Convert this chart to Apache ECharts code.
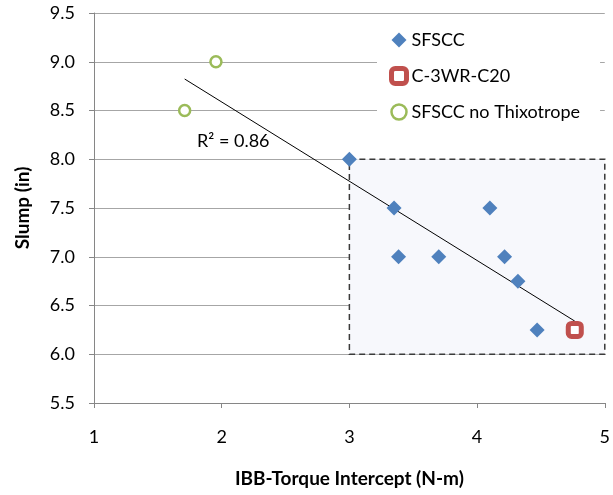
<!DOCTYPE html>
<html><head><meta charset="utf-8">
<script src="https://cdn.jsdelivr.net/npm/echarts@6/dist/echarts.min.js"></script>
<style>html,body{margin:0;padding:0;background:#fff}#c{width:613px;height:495px}</style>
</head><body><div id="c"></div>
<script>
const sfsccX = [3.00, 3.35, 4.10, 3.385, 3.70, 4.215, 4.32, 4.47];
const sfsccY = [8.00, 7.50, 7.50, 7.00, 7.00, 7.00, 6.75, 6.25];
const c3wrX = [4.765];
const c3wrY = [6.25];
const noThixX = [1.71, 1.955];
const noThixY = [8.50, 9.00];
const trendX = [1.71, 4.765];
const trendY = [8.823, 6.34];
const boxX = [3, 5];
const boxY = [6.0, 8.0];
const xTicks = [1, 2, 3, 4, 5];
const yTicks = [5.5, 6.0, 6.5, 7.0, 7.5, 8.0, 8.5, 9.0, 9.5];
const r2Text = 'R² = 0.86';

const zip = (a, b) => a.map((v, i) => [v, b[i]]);
const FONT = 'Lato, "Open Sans", sans-serif';
const chart = echarts.init(document.getElementById('c'), null, {renderer: 'canvas'});
chart.setOption({
  animation: false,
  textStyle: {fontFamily: FONT},
  grid: {left: 94, right: 8, top: 13, bottom: 92},
  xAxis: {
    type: 'value', min: xTicks[0], max: xTicks[xTicks.length - 1], interval: 1,
    name: 'IBB-Torque Intercept (N-m)', nameLocation: 'middle', nameGap: 66,
    nameTextStyle: {fontSize: 19, fontWeight: 'bold', color: '#000', fontFamily: FONT},
    axisLine: {lineStyle: {color: '#868686', width: 1}},
    axisTick: {show: true, inside: false, length: 5, lineStyle: {color: '#868686'}},
    axisLabel: {fontSize: 18, color: '#000', margin: 25, fontFamily: FONT},
    splitLine: {show: false}
  },
  yAxis: {
    type: 'value', min: yTicks[0], max: yTicks[yTicks.length - 1], interval: 0.5,
    name: 'Slump (in)', nameLocation: 'middle', nameGap: 62,
    nameTextStyle: {fontSize: 19, fontWeight: 'bold', color: '#000', fontFamily: FONT},
    axisLine: {show: true, lineStyle: {color: '#868686', width: 1}},
    axisTick: {show: true, inside: false, length: 5, lineStyle: {color: '#868686'}},
    axisLabel: {fontSize: 18, color: '#000', margin: 19, fontFamily: FONT, formatter: v => v.toFixed(1)},
    splitLine: {show: true, lineStyle: {color: '#a6a6a6', width: 1}}
  },
  legend: {
    orient: 'vertical', left: 377, top: 25, itemGap: 17,
    backgroundColor: '#fff', padding: [6, 20, 6, 12],
    itemWidth: 15, itemHeight: 15,
    textStyle: {fontSize: 18, color: '#000', fontFamily: FONT},
    data: [
      {name: 'SFSCC', icon: 'diamond'},
      {name: 'C-3WR-C20', icon: 'roundRect', itemStyle: {color: '#fff', borderColor: '#C0504D', borderWidth: 5}},
      {name: 'SFSCC no Thixotrope', icon: 'circle', itemStyle: {color: '#fff', borderColor: '#9BBB59', borderWidth: 2.5}}
    ]
  },
  series: [
    {
      name: 'box', type: 'line', data: [], silent: true,
      markArea: {
        silent: true,
        itemStyle: {color: '#f7f8fc', opacity: 1, borderColor: '#3a3a3a', borderWidth: 1.5, borderType: [6, 4]},
        data: [[{coord: [boxX[0], boxY[1]]}, {coord: [boxX[1], boxY[0]]}]]
      }
    },
    {
      name: 'trend', type: 'line', data: zip(trendX, trendY), symbol: 'none',
      lineStyle: {color: '#000', width: 1}, silent: true, z: 3
    },
    {
      name: 'SFSCC', type: 'scatter', data: zip(sfsccX, sfsccY),
      symbol: 'diamond', symbolSize: 15, itemStyle: {color: '#4F81BD', opacity: 1}, z: 4
    },
    {
      name: 'C-3WR-C20', type: 'scatter', data: zip(c3wrX, c3wrY),
      symbol: 'roundRect', symbolSize: 13,
      itemStyle: {color: '#fff', borderColor: '#C0504D', borderWidth: 5, opacity: 1}, z: 4
    },
    {
      name: 'SFSCC no Thixotrope', type: 'scatter', data: zip(noThixX, noThixY),
      symbol: 'circle', symbolSize: 11,
      itemStyle: {color: '#fff', borderColor: '#9BBB59', borderWidth: 2.5, opacity: 1}, z: 4
    }
  ],
  graphic: [{
    type: 'text', left: 197, top: 132,
    style: {text: r2Text, font: '18px ' + FONT, fill: '#000'}
  }]
});
</script></body></html>
